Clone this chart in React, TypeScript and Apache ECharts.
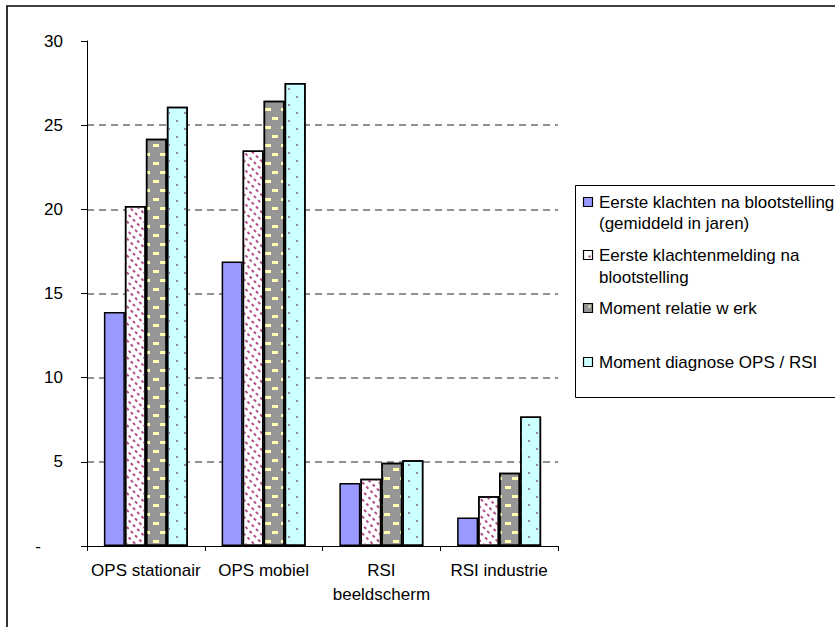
import { useEffect, useRef } from 'react';
import * as echarts from 'echarts';

// Categories on the x axis
const categories = ['OPS stationair', 'OPS mobiel', 'RSI beeldscherm', 'RSI industrie'];

// Series names (as shown in the legend)
const seriesNames = [
  'Eerste klachten na blootstelling (gemiddeld in jaren)',
  'Eerste klachtenmelding na blootstelling',
  'Moment relatie w erk',
  'Moment diagnose OPS / RSI',
];

// Legend labels, wrapped as displayed
const legendLabels = [
  'Eerste klachten na blootstelling\n(gemiddeld in jaren)',
  'Eerste klachtenmelding na\nblootstelling',
  'Moment relatie w erk',
  'Moment diagnose OPS / RSI',
];

// Values in years
const eersteKlachten = [13.9, 16.9, 3.75, 1.7];
const eersteMelding = [20.2, 23.5, 4.0, 2.95];
const relatieWerk = [24.2, 26.45, 4.95, 4.35];
const diagnose = [26.1, 27.5, 5.1, 7.7];

const FONT = 'Arial, "Liberation Sans", sans-serif';

export default function App() {
  const ref = useRef<HTMLDivElement>(null);

  useEffect(() => {
    document.body.style.margin = '0';
    const chart = echarts.init(ref.current!, null, { renderer: 'svg' });

    const barBase = {
      type: 'bar' as const,
      barWidth: 21,
      barGap: '0%',
    };

    const legendItemsY = [202, 255, 308, 362];
    const legendLineHeights = [21, 22, 22, 22];
    const markerFill = ['#9999FF', '#FFFFFF', '#969696', '#CCFFFF'];
    const markerDot = [null, '#993366', '#FFFFCC', null];

    const legendChildren: any[] = [
      {
        type: 'rect',
        shape: { x: 575.5, y: 185.5, width: 400, height: 212 },
        style: { fill: '#fff', stroke: '#000', lineWidth: 1 },
      },
    ];
    legendLabels.forEach((label, i) => {
      const cy = legendItemsY[i];
      legendChildren.push({
        type: 'rect',
        shape: { x: 583.5, y: cy - 4.5, width: 9, height: 9 },
        style: { fill: markerFill[i], stroke: '#000', lineWidth: 1.2 },
      });
      if (markerDot[i]) {
        legendChildren.push({
          type: 'rect',
          shape: { x: 588.5, y: i === 1 ? cy + 0.5 : cy - 2.5, width: 2, height: 2 },
          style: { fill: markerDot[i] },
        });
      }
      const lh = legendLineHeights[i];
      legendChildren.push({
        type: 'text',
        x: 599,
        y: cy - lh / 2,
        style: {
          text: label,
          font: `17px ${FONT}`,
          fill: '#000',
          lineHeight: lh,
          align: 'left',
          verticalAlign: 'top',
        },
      });
    });

    const option: any = {
      animation: false,
      backgroundColor: '#fff',
      textStyle: { fontFamily: FONT },
      grid: {
        left: 87,
        top: 41,
        right: 277,
        bottom: 81,
        containLabel: false,
        outerBoundsMode: 'none',
      },
      xAxis: {
        type: 'category',
        data: categories,
        axisLine: { show: true, lineStyle: { color: '#000', width: 1 } },
        axisTick: { show: true, length: 5, alignWithLabel: false, lineStyle: { color: '#000' } },
        axisLabel: {
          color: '#000',
          fontSize: 17,
          fontFamily: FONT,
          lineHeight: 24,
          margin: 12,
          interval: 0,
          formatter: (v: string) => (v === 'RSI beeldscherm' ? 'RSI\nbeeldscherm' : v),
        },
        splitLine: { show: false },
      },
      yAxis: {
        type: 'value',
        min: 0,
        max: 30,
        interval: 5,
        axisLine: { show: true, lineStyle: { color: '#000', width: 1 } },
        axisTick: { show: true, length: 6, lineStyle: { color: '#000' } },
        axisLabel: {
          color: '#000',
          fontSize: 17,
          fontFamily: FONT,
          margin: 24,
          formatter: (v: number) => (v === 0 ? '{z|-}' : String(v)),
          rich: {
            z: { fontSize: 17, fontFamily: FONT, color: '#000', padding: [0, 22, 0, 0] },
          },
        },
        splitLine: {
          show: true,
          showMinLine: false,
          showMaxLine: false,
          lineStyle: { color: '#6e6e6e', width: 1.5, type: [7, 5] },
        },
      },
      series: [
        {
          ...barBase,
          name: seriesNames[0],
          data: eersteKlachten,
          itemStyle: { color: '#9999FF', borderColor: '#000', borderWidth: 1.5 },
        },
        {
          ...barBase,
          name: seriesNames[1],
          data: eersteMelding,
          itemStyle: {
            color: '#FFFFFF',
            borderColor: '#000',
            borderWidth: 1.5,
            decal: {
              symbol: 'rect',
              symbolSize: 1,
              symbolKeepAspect: false,
              color: '#B0508A',
              dashArrayX: [[3, 3], [0, 3, 3, 0]],
              dashArrayY: [1.3, 3.7],
              rotation: Math.PI / 4,
            },
          },
        },
        {
          ...barBase,
          name: seriesNames[2],
          data: relatieWerk,
          itemStyle: {
            color: '#969696',
            borderColor: '#000',
            borderWidth: 1.5,
            decal: {
              symbol: 'rect',
              symbolSize: 1,
              symbolKeepAspect: false,
              color: '#FFFFB4',
              dashArrayX: [[6, 10], [0, 9, 6, 1]],
              dashArrayY: [2.2, 5.8],
              rotation: 0,
            },
          },
        },
        {
          ...barBase,
          name: seriesNames[3],
          data: diagnose,
          itemStyle: {
            color: '#CCFFFF',
            borderColor: '#000',
            borderWidth: 1.5,
            decal: {
              symbol: 'rect',
              symbolSize: 1,
              symbolKeepAspect: false,
              color: '#8E8EA6',
              dashArrayX: [[2, 14], [0, 8, 2, 6]],
              dashArrayY: [2, 6],
              rotation: 0,
            },
          },
        },
      ],
      graphic: [
        {
          type: 'rect',
          silent: true,
          z: 100,
          shape: { x: 7, y: 6, width: 1000, height: 1000 },
          style: { fill: 'none', stroke: '#000', lineWidth: 1.6 },
        },
        {
          type: 'group',
          z: 100,
          children: legendChildren,
        },
      ],
    };

    chart.setOption(option);
    return () => chart.dispose();
  }, []);

  return <div ref={ref} style={{ width: 835, height: 627 }} />;
}
